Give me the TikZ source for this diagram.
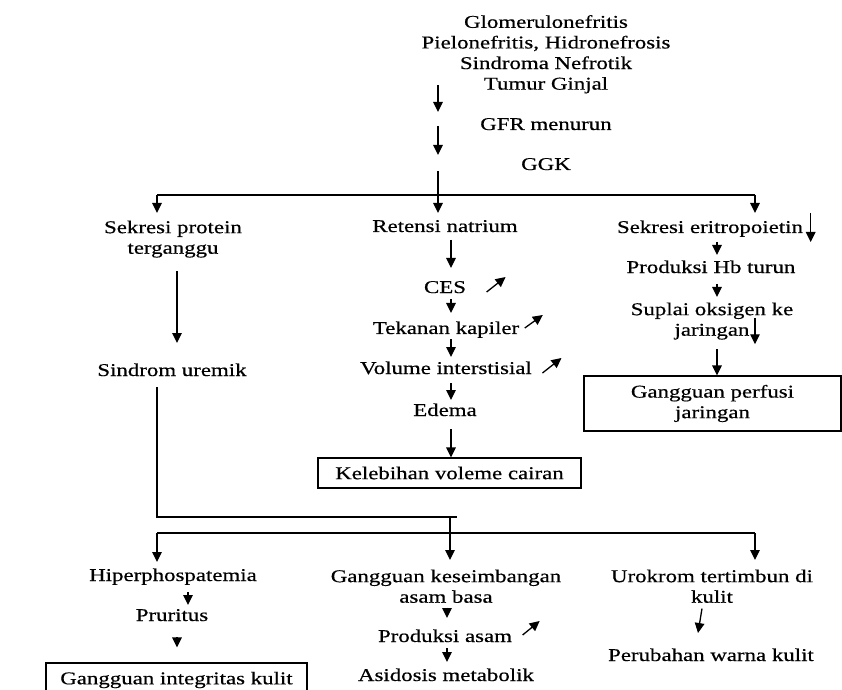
\documentclass[tikz,border=0pt]{standalone}
\usepackage{fontspec}
\setmainfont{Liberation Serif}[FakeStretch=1.27, FakeBold=0.5]
\usetikzlibrary{arrows.meta, calc}

\begin{document}
\begin{tikzpicture}[x=0.5pt, y=-0.5pt, line width=0.65pt,
  font=\fontsize{9}{10.3}\selectfont,
  lbl/.style={inner sep=0pt, anchor=base},
  lbls/.style={inner sep=0pt, anchor=north, align=center},
  box/.style={draw, inner sep=0pt},
  arr/.style={-{Triangle[length=5pt, width=4.8pt]}}]
\useasboundingbox (0,0) rectangle (842,690);

%columns and split points
\coordinate (mcol) at (438,0);
\coordinate (lcol) at (157,0);
\coordinate (rcol) at (755,0);
\coordinate (col2) at (177,0);
\coordinate (ncol) at (451,0);
\coordinate (ecol) at (717,0);
\coordinate (hcol) at (188,0);
\coordinate (kcol) at (447,0);
\coordinate (split1) at (438,195);
\coordinate (join) at (450,517);
\coordinate (split2) at (450,533);

%causes
\node[lbls] (src) at (546,14.5) {Glomerulonefritis\\Pielonefritis, Hidronefrosis\\Sindroma Nefrotik\\Tumur Ginjal};
\node[lbl] (gfr) at (546,130) {GFR menurun};
\node[lbl] (ggk) at (546,170) {GGK};

%first level
\node[lbls] (prot) at (173,220) {Sekresi protein\\terganggu};
\node[lbl] (natr) at (445,232) {Retensi natrium};
\node[lbl] (eri) at (710,233) {Sekresi eritropoietin};
\node[lbl] (uremik) at (172,376) {Sindrom uremik};

%fluid chain
\node[lbl] (ces) at (445,293) {CES};
\node[lbl] (kap) at (446,334) {Tekanan kapiler};
\node[lbl] (vol) at (446,374) {Volume interstisial};
\node[lbl] (edema) at (445,416) {Edema};
\node[box, minimum width=131.5pt, minimum height=15pt] (cair) at (449.5,473) {Kelebihan voleme cairan};

%blood chain
\node[lbl] (hb) at (711,273) {Produksi Hb turun};
\node[lbls] (supl) at (712,302) {Suplai oksigen ke\\jaringan};
\node[box, align=center, minimum width=128.5pt, minimum height=27.5pt] (perf) at (712.5,403.5) {Gangguan perfusi\\jaringan};

%uremic effects
\node[lbl] (hiper) at (173,581) {Hiperphospatemia};
\node[lbl] (prur) at (172,621) {Pruritus};
\node[box, minimum width=130.5pt, minimum height=17pt] (integ) at (176.5,680) {Gangguan integritas kulit};
\node[lbls] (keseimb) at (446,569) {Gangguan keseimbangan\\asam basa};
\node[lbl] (pasam) at (445,642) {Produksi asam};
\node[lbl] (asid) at (446,681) {Asidosis metabolik};
\node[lbls] (uro) at (712,569) {Urokrom tertimbun di\\kulit};
\node[lbl] (warna) at (711,661) {Perubahan warna kulit};

%top chain
\draw[arr] ([yshift=4.5pt]src.south -| mcol) -- ([yshift=9pt]gfr.base -| mcol);
\draw[arr] ([yshift=2pt]gfr.base -| mcol) -- ([yshift=7.5pt]ggk.base -| mcol);
\draw ([yshift=-0.5pt]ggk.base -| mcol) -- (split1);
\draw (split1 -| lcol) -- (split1 -| rcol);
\draw[arr] (split1 -| lcol) -- ([yshift=3.5pt]prot.north -| lcol);
\draw[arr] (split1) -- ([yshift=9.5pt]natr.base -| mcol);
\draw[arr] (split1 -| rcol) -- ([yshift=10pt]eri.base -| rcol);

%left
\draw[arr] ([yshift=-6.5pt]prot.south -| col2) -- ([yshift=16.5pt]uremik.base -| col2);

%middle
\draw[arr] ([yshift=-4pt]natr.base -| ncol) -- ([yshift=12.5pt]ces.base -| ncol);
\draw[arr] ([yshift=-3pt]ces.base -| ncol) -- ([yshift=10.5pt]kap.base -| ncol);
\draw[arr] ([yshift=-2.5pt]kap.base -| ncol) -- ([yshift=8.5pt]vol.base -| ncol);
\draw[arr] ([yshift=-4.5pt]vol.base -| ncol) -- ([yshift=8pt]edema.base -| ncol);
\draw[arr] ([yshift=-6.5pt]edema.base -| ncol) -- (cair.north -| ncol);
\draw[arr] ($(ces.base east)+(20,-1)$) -- ++(19,-15);
\draw[arr] ($(kap.base east)+(5,-6)$) -- ++(18,-13);
\draw[arr] ($(vol.base east)+(10,-1)$) -- ++(19,-15);

%right
\draw[arr] ([yshift=-4.5pt]eri.base -| ecol) -- ([yshift=9pt]hb.base -| ecol);
\draw[arr] ($(eri.base east)+(7,-20)$) -- ++(0,29);
\draw[arr] ([yshift=-5.5pt]hb.base -| ecol) -- ([yshift=2.5pt]supl.north -| ecol);
\draw[arr] ($(supl.south)+(43,-22)$) -- ++(0,26);
\draw[arr] ([yshift=-4.5pt]supl.south -| ecol) -- (perf.north -| ecol);

%bottom
\draw ([yshift=-5.5pt]uremik.base -| lcol) |- ([xshift=3.5pt]join);
\draw[arr] (join) -- ([yshift=4.5pt]keseimb.north -| join);
\draw (split2 -| lcol) -- (split2 -| rcol);
\draw[arr] (split2 -| lcol) -- ([yshift=9.5pt]hiper.base -| lcol);
\draw[arr] (split2 -| rcol) -- ([yshift=4.5pt]uro.north -| rcol);
\draw[arr] ([yshift=-5.5pt]hiper.base -| hcol) -- ([yshift=8pt]prur.base -| hcol);
\draw[arr] ([yshift=-8pt]prur.base -| col2) -- ([yshift=7.5pt]integ.north -| col2);
\draw[arr] ([yshift=-2pt]keseimb.south -| kcol) -- ([yshift=12pt]pasam.base -| kcol);
\draw[arr] ([yshift=-3pt]pasam.base -| kcol) -- ([yshift=9.5pt]asid.base -| kcol);
\draw[arr] ($(pasam.base east)+(10,-7)$) -- ++(17,-14);
\draw[arr] ($(uro.south)+(-10,5)$) -- ($(warna.base)+(-13,-28)$);

\end{tikzpicture}
\end{document}
